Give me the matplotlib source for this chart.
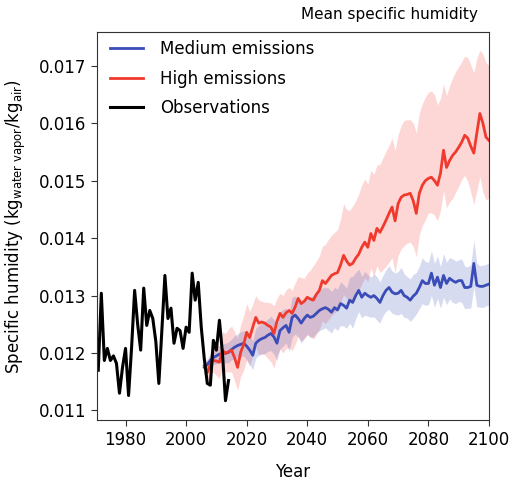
import numpy as np
import matplotlib
matplotlib.use('Agg')
import matplotlib.pyplot as plt

# observed annual mean specific humidity (kg/kg)
obs_years = np.arange(1971, 2015)
obs_q = [0.01170, 0.01304, 0.01187, 0.01208, 0.01187, 0.01195, 0.01182, 0.01130,
         0.01175, 0.01208, 0.01126, 0.01210, 0.01309, 0.01250, 0.01205, 0.01313,
         0.01248, 0.01274, 0.01260, 0.01220, 0.01147, 0.01240, 0.01335, 0.01260,
         0.01278, 0.01217, 0.01243, 0.01239, 0.01208, 0.01245, 0.01236, 0.01339,
         0.01292, 0.01323, 0.01245, 0.01190, 0.01147, 0.01144, 0.01222, 0.01205,
         0.01257, 0.01200, 0.01117, 0.01152]

# model projections, ensemble mean
mod_years = np.arange(2006, 2101)
med_q = [0.01175, 0.01180, 0.01187, 0.01192, 0.01195, 0.01198, 0.01199, 0.01200, 0.01201, 0.01206,
         0.01210, 0.01213, 0.01215, 0.01217, 0.01212, 0.01205, 0.01196, 0.01217, 0.01222, 0.01225,
         0.01227, 0.01231, 0.01234, 0.01228, 0.01217, 0.01239, 0.01244, 0.01248, 0.01236, 0.01262,
         0.01266, 0.01260, 0.01252, 0.01260, 0.01266, 0.01262, 0.01264, 0.01269, 0.01274, 0.01277,
         0.01279, 0.01276, 0.01271, 0.01279, 0.01275, 0.01286, 0.01283, 0.01278, 0.01292, 0.01288,
         0.01300, 0.01309, 0.01297, 0.01304, 0.01300, 0.01297, 0.01300, 0.01295, 0.01288, 0.01300,
         0.01309, 0.01314, 0.01306, 0.01303, 0.01304, 0.01309, 0.01300, 0.01297, 0.01292, 0.01299,
         0.01304, 0.01314, 0.01326, 0.01321, 0.01321, 0.01339, 0.01318, 0.01332, 0.01314, 0.01335,
         0.01321, 0.01330, 0.01326, 0.01323, 0.01326, 0.01326, 0.01314, 0.01314, 0.01316, 0.01356,
         0.01318, 0.01316, 0.01316, 0.01318, 0.01320]
high_q = [0.01178, 0.01166, 0.01180, 0.01187, 0.01186, 0.01184, 0.01205, 0.01199, 0.01202, 0.01205,
          0.01192, 0.01175, 0.01201, 0.01215, 0.01236, 0.01227, 0.01245, 0.01262, 0.01252, 0.01254,
          0.01252, 0.01248, 0.01245, 0.01234, 0.01255, 0.01269, 0.01262, 0.01270, 0.01274, 0.01269,
          0.01280, 0.01295, 0.01286, 0.01290, 0.01297, 0.01294, 0.01292, 0.01302, 0.01309, 0.01326,
          0.01321, 0.01328, 0.01335, 0.01338, 0.01340, 0.01353, 0.01370, 0.01360, 0.01353, 0.01356,
          0.01365, 0.01372, 0.01384, 0.01393, 0.01384, 0.01408, 0.01396, 0.01417, 0.01410, 0.01420,
          0.01431, 0.01443, 0.01454, 0.01430, 0.01460, 0.01471, 0.01475, 0.01476, 0.01478, 0.01465,
          0.01443, 0.01478, 0.01492, 0.01500, 0.01504, 0.01506, 0.01500, 0.01492, 0.01513, 0.01553,
          0.01523, 0.01535, 0.01544, 0.01550, 0.01558, 0.01567, 0.01579, 0.01574, 0.01560, 0.01548,
          0.01583, 0.01617, 0.01600, 0.01576, 0.01570]

# ensemble spread (distance of band edges from the mean)
med_sd = [0.00010, 0.00010, 0.00012, 0.00012, 0.00014, 0.00015, 0.00016, 0.00017, 0.00018, 0.00018,
          0.00020, 0.00020, 0.00022, 0.00022, 0.00024, 0.00025, 0.00025, 0.00026, 0.00026, 0.00027,
          0.00028, 0.00028, 0.00030, 0.00030, 0.00030, 0.00032, 0.00032, 0.00030, 0.00033, 0.00035,
          0.00033, 0.00032, 0.00035, 0.00034, 0.00033, 0.00035, 0.00036, 0.00034, 0.00035, 0.00036,
          0.00035, 0.00037, 0.00036, 0.00035, 0.00036, 0.00038, 0.00036, 0.00035, 0.00040, 0.00045,
          0.00040, 0.00037, 0.00036, 0.00038, 0.00036, 0.00035, 0.00037, 0.00038, 0.00036, 0.00035,
          0.00036, 0.00038, 0.00037, 0.00036, 0.00038, 0.00040, 0.00038, 0.00036, 0.00037, 0.00038,
          0.00036, 0.00037, 0.00040, 0.00038, 0.00037, 0.00039, 0.00038, 0.00037, 0.00036, 0.00038,
          0.00037, 0.00036, 0.00038, 0.00037, 0.00036, 0.00038, 0.00037, 0.00036, 0.00038, 0.00040,
          0.00038, 0.00036, 0.00037, 0.00036, 0.00037]
high_up = [0.00012, 0.00016, 0.00020, 0.00025, 0.00030, 0.00028, 0.00032, 0.00035, 0.00040, 0.00042,
           0.00045, 0.00050, 0.00048, 0.00050, 0.00050, 0.00045, 0.00040, 0.00038, 0.00040, 0.00036,
           0.00036, 0.00040, 0.00042, 0.00048, 0.00040, 0.00035, 0.00038, 0.00040, 0.00040, 0.00040,
           0.00042, 0.00038, 0.00045, 0.00040, 0.00042, 0.00050, 0.00060, 0.00058, 0.00060, 0.00060,
           0.00068, 0.00070, 0.00070, 0.00072, 0.00075, 0.00080, 0.00090, 0.00090, 0.00095, 0.00100,
           0.00100, 0.00105, 0.00108, 0.00110, 0.00110, 0.00110, 0.00115, 0.00110, 0.00118, 0.00120,
           0.00120, 0.00118, 0.00120, 0.00122, 0.00120, 0.00125, 0.00130, 0.00130, 0.00128, 0.00135,
           0.00140, 0.00140, 0.00142, 0.00145, 0.00150, 0.00150, 0.00150, 0.00140, 0.00130, 0.00115,
           0.00125, 0.00130, 0.00135, 0.00140, 0.00140, 0.00140, 0.00138, 0.00140, 0.00142, 0.00140,
           0.00130, 0.00110, 0.00120, 0.00130, 0.00130]
high_dn = [0.00012, 0.00015, 0.00018, 0.00020, 0.00025, 0.00028, 0.00030, 0.00032, 0.00035, 0.00038,
           0.00040, 0.00040, 0.00042, 0.00045, 0.00048, 0.00050, 0.00050, 0.00052, 0.00055, 0.00055,
           0.00055, 0.00058, 0.00060, 0.00060, 0.00060, 0.00062, 0.00062, 0.00062, 0.00065, 0.00065,
           0.00065, 0.00066, 0.00065, 0.00065, 0.00066, 0.00065, 0.00068, 0.00070, 0.00068, 0.00070,
           0.00070, 0.00070, 0.00070, 0.00068, 0.00066, 0.00066, 0.00068, 0.00065, 0.00065, 0.00064,
           0.00064, 0.00063, 0.00064, 0.00062, 0.00060, 0.00060, 0.00063, 0.00065, 0.00070, 0.00075,
           0.00080, 0.00085, 0.00088, 0.00090, 0.00090, 0.00090, 0.00088, 0.00085, 0.00085, 0.00080,
           0.00075, 0.00072, 0.00070, 0.00068, 0.00060, 0.00062, 0.00060, 0.00062, 0.00065, 0.00070,
           0.00070, 0.00072, 0.00075, 0.00070, 0.00068, 0.00065, 0.00070, 0.00075, 0.00080, 0.00090,
           0.00100, 0.00110, 0.00120, 0.00110, 0.00100]

blue = '#3a4cb8'
red = '#f03a2e'

med_q = np.array(med_q)
high_q = np.array(high_q)

fig = plt.figure(figsize=(5.12, 4.83), dpi=100)
ax = fig.add_axes([0.189, 0.130, 0.766, 0.804])

ax.fill_between(mod_years, high_q - np.array(high_dn), high_q + np.array(high_up),
                color=red, alpha=0.2, lw=0)
ax.fill_between(mod_years, med_q - np.array(med_sd), med_q + np.array(med_sd),
                color=blue, alpha=0.2, lw=0)
ax.plot(mod_years, med_q, color=blue, lw=2, label='Medium emissions')
ax.plot(mod_years, high_q, color=red, lw=2, label='High emissions')
ax.plot(obs_years, obs_q, color='black', lw=2.2, label='Observations')

ax.set_xlim(1970.5, 2100)
ax.set_ylim(0.01083, 0.01759)
ax.set_xticks(np.arange(1980, 2101, 20))
ax.set_yticks([0.011, 0.012, 0.013, 0.014, 0.015, 0.016, 0.017])
ax.tick_params(labelsize=12, length=4, color='#333333')
for s in ax.spines.values():
    s.set_color('#333333')

ax.set_xlabel('Year', fontsize=12, labelpad=10)
ax.set_ylabel(r'Specific humidity (kg$_{\mathrm{water\ vapor}}$/kg$_{\mathrm{air}}$)',
              fontsize=12, labelpad=8)

ax.legend(loc='upper left', bbox_to_anchor=(0.012, 1.0), frameon=False, fontsize=12,
          handlelength=2.0, handletextpad=1.0, labelspacing=0.68, borderaxespad=0.1)

fig.text(0.934, 0.969, 'Mean specific humidity', ha='right', va='center', fontsize=11)

fig.savefig('out.png', dpi=100)
